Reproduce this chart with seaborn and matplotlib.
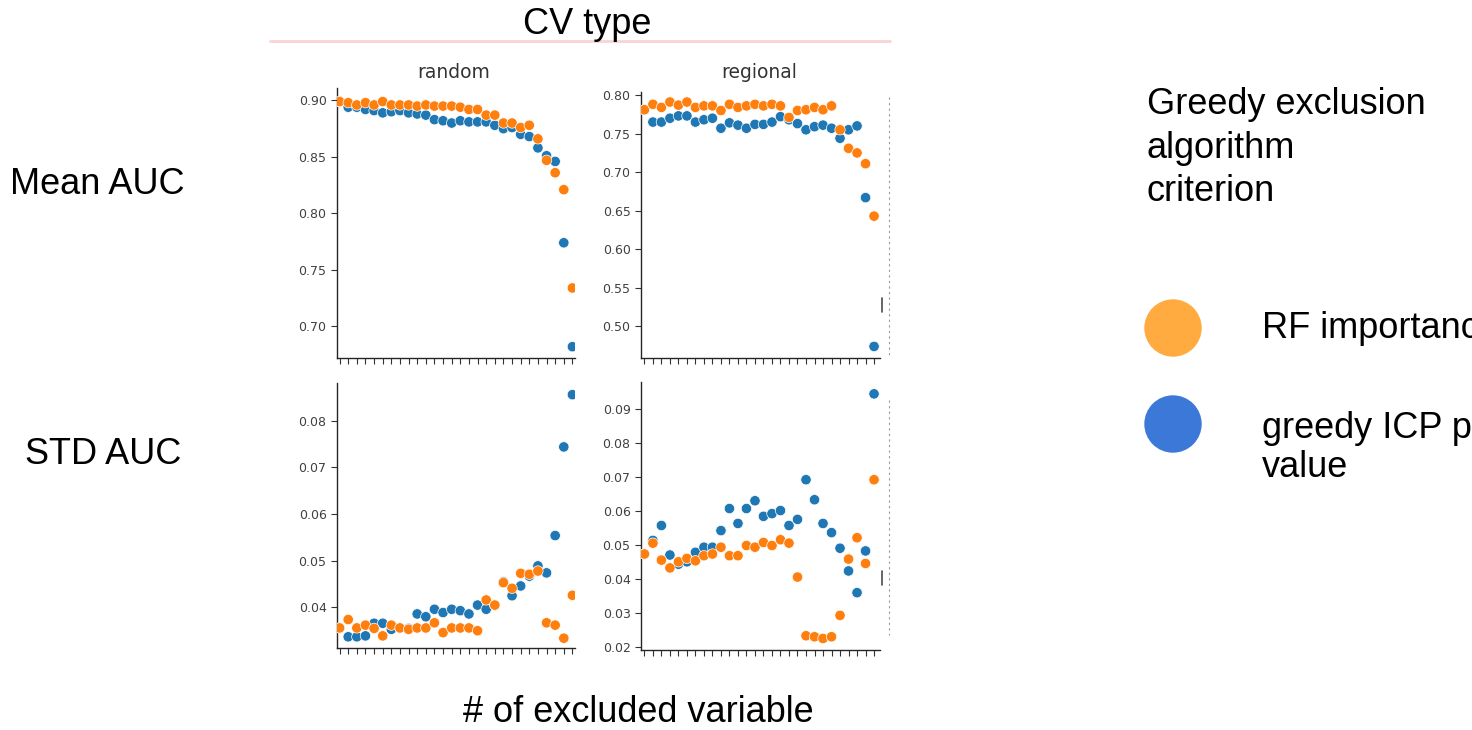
import numpy as np
import pandas as pd
import matplotlib
matplotlib.use("Agg")
import matplotlib.pyplot as plt
from matplotlib.patches import Ellipse
from matplotlib.lines import Line2D
import seaborn as sns

# ---------------- data ----------------
n_excluded = list(range(28))
criteria = ["greedy ICP p-value", "RF importance"]
cv_types = ["random", "regional"]
metrics = ["Mean AUC", "STD AUC"]

mean_random_icp = [0.899, 0.894, 0.894, 0.892, 0.891, 0.889, 0.890, 0.891, 0.889, 0.888,
                   0.887, 0.883, 0.882, 0.880, 0.882, 0.881, 0.881, 0.881, 0.878, 0.875,
                   0.876, 0.870, 0.868, 0.858, 0.851, 0.846, 0.774, 0.682]
mean_random_rf = [0.899, 0.898, 0.896, 0.898, 0.896, 0.899, 0.896, 0.896, 0.896, 0.895,
                  0.896, 0.895, 0.895, 0.895, 0.894, 0.892, 0.892, 0.887, 0.887, 0.880,
                  0.880, 0.876, 0.878, 0.866, 0.847, 0.836, 0.821, 0.734]
mean_regional_icp = [0.781, 0.765, 0.765, 0.770, 0.773, 0.773, 0.765, 0.768, 0.770, 0.757,
                     0.764, 0.761, 0.757, 0.762, 0.762, 0.765, 0.772, 0.768, 0.763, 0.755,
                     0.759, 0.761, 0.757, 0.744, 0.755, 0.760, 0.667, 0.474]
mean_regional_rf = [0.781, 0.788, 0.784, 0.791, 0.787, 0.791, 0.784, 0.786, 0.786, 0.780,
                    0.788, 0.784, 0.786, 0.788, 0.786, 0.788, 0.786, 0.771, 0.780, 0.781,
                    0.784, 0.781, 0.786, 0.755, 0.731, 0.725, 0.711, 0.643]
std_random_icp = [0.0356, 0.0337, 0.0337, 0.0339, 0.0366, 0.0366, 0.0353, 0.0356, 0.0355, 0.0386,
                  0.0380, 0.0396, 0.0389, 0.0396, 0.0393, 0.0386, 0.0405, 0.0396, 0.0405, 0.0455,
                  0.0425, 0.0446, 0.0467, 0.0489, 0.0474, 0.0554, 0.0744, 0.0856]
std_random_rf = [0.0356, 0.0374, 0.0356, 0.0362, 0.0355, 0.0339, 0.0362, 0.0356, 0.0353, 0.0356,
                 0.0356, 0.0367, 0.0346, 0.0356, 0.0356, 0.0356, 0.0350, 0.0416, 0.0405, 0.0453,
                 0.0441, 0.0473, 0.0471, 0.0478, 0.0367, 0.0362, 0.0334, 0.0426]
std_regional_icp = [0.0473, 0.0513, 0.0557, 0.0470, 0.0443, 0.0450, 0.0478, 0.0493, 0.0493, 0.0542,
                    0.0607, 0.0563, 0.0607, 0.0630, 0.0584, 0.0592, 0.0601, 0.0557, 0.0575, 0.0692,
                    0.0633, 0.0563, 0.0536, 0.0490, 0.0423, 0.0359, 0.0482, 0.0945]
std_regional_rf = [0.0473, 0.0505, 0.0455, 0.0432, 0.0450, 0.0460, 0.0453, 0.0468, 0.0473, 0.0493,
                   0.0468, 0.0468, 0.0498, 0.0493, 0.0507, 0.0498, 0.0515, 0.0505, 0.0405, 0.0232,
                   0.0229, 0.0224, 0.0229, 0.0292, 0.0458, 0.0521, 0.0445, 0.0692]

yticks_mean_random = [0.70, 0.75, 0.80, 0.85, 0.90]
yticks_mean_regional = [0.50, 0.55, 0.60, 0.65, 0.70, 0.75, 0.80]
yticks_std_random = [0.04, 0.05, 0.06, 0.07, 0.08]
yticks_std_regional = [0.02, 0.03, 0.04, 0.05, 0.06, 0.07, 0.08, 0.09]

series = {
    ("Mean AUC", "random"): (mean_random_icp, mean_random_rf),
    ("Mean AUC", "regional"): (mean_regional_icp, mean_regional_rf),
    ("STD AUC", "random"): (std_random_icp, std_random_rf),
    ("STD AUC", "regional"): (std_regional_icp, std_regional_rf),
}
rows = []
for (metric, cv), (icp, rf) in series.items():
    for crit, vals in zip(criteria, (icp, rf)):
        for x, v in zip(n_excluded, vals):
            rows.append({"metric": metric, "cv": cv, "criterion": crit, "x": x, "value": v})
df = pd.DataFrame(rows)

# ---------------- figure ----------------
sns.set_theme(style="ticks")
W, H = 1472, 730
fig = plt.figure(figsize=(W / 100, H / 100), dpi=100)


def px_axes(left, top, right, bottom):
    return fig.add_axes([left / W, (H - bottom) / H, (right - left) / W, (bottom - top) / H])


layout = {
    ("Mean AUC", "random"): ((337, 88, 575, 358), (0.672, 0.911), yticks_mean_random, (-0.3, 27.3)),
    ("Mean AUC", "regional"): ((641, 92, 880, 358), (0.459, 0.804), yticks_mean_regional, (-0.4, 27.7)),
    ("STD AUC", "random"): ((337, 383, 575, 648), (0.0313, 0.0881), yticks_std_random, (-0.3, 27.3)),
    ("STD AUC", "regional"): ((641, 382, 880, 650), (0.019, 0.098), yticks_std_regional, (-0.4, 27.7)),
}
palette = {"greedy ICP p-value": "#1f77b4", "RF importance": "#ff7f0e"}

for (metric, cv), (box, ylim, yt, xlim) in layout.items():
    ax = px_axes(*box)
    sub = df[(df.metric == metric) & (df.cv == cv)]
    sns.scatterplot(data=sub, x="x", y="value", hue="criterion", hue_order=criteria,
                    palette=palette, s=56, linewidth=0.5, edgecolor="white",
                    legend=False, ax=ax, zorder=3)
    ax.set_xlim(*xlim)
    ax.set_ylim(*ylim)
    ax.set_xticks(n_excluded)
    ax.set_xticklabels([])
    ax.set_yticks(yt)
    ax.set_yticklabels(["{:.2f}".format(t) for t in yt])
    ax.tick_params(axis="both", length=4, width=0.8, colors=".2", labelsize=9, labelcolor=".25")
    ax.set_xlabel("")
    ax.set_ylabel("")
    for s in ("top", "right"):
        ax.spines[s].set_visible(False)
    for s in ("left", "bottom"):
        ax.spines[s].set_color(".15")
        ax.spines[s].set_linewidth(1.0)

# facet column titles
for cv, xc in zip(cv_types, (454, 759)):
    fig.text(xc / W, (H - 73) / H, cv, ha="center", va="center", fontsize=13.5, color=".2")

# faint clipped-legend remnants at the right edge of the regional column
for y0, y1 in ((97, 358), (400, 635)):
    fig.add_artist(Line2D([889 / W, 889 / W], [(H - y0) / H, (H - y1) / H],
                          transform=fig.transFigure, color=".6", lw=0.8, ls=(0, (2, 3))))
for yc in (305, 578):
    fig.add_artist(Line2D([882 / W, 882 / W], [(H - yc + 7) / H, (H - yc - 7) / H],
                          transform=fig.transFigure, color=".3", lw=1.2))

# ---------------- annotation text ----------------
font = "Liberation Sans"
fs = 26
tc = "black"
fig.text(587 / W, (H - 24) / H, "CV type", ha="center", va="center", fontsize=fs, family=font, color=tc)
fig.add_artist(Line2D([270 / W, 890 / W], [(H - 41) / H, (H - 41) / H],
                      transform=fig.transFigure, color="#f8d4d4", lw=2))
fig.text(10 / W, (H - 185) / H, "Mean AUC", ha="left", va="center", fontsize=fs, family=font, color=tc)
fig.text(25 / W, (H - 455) / H, "STD AUC", ha="left", va="center", fontsize=fs, family=font, color=tc)
fig.text(638 / W, (H - 712) / H, "# of excluded variable", ha="center", va="center",
         fontsize=fs, family=font, color=tc)
fig.text(1147 / W, (H - 148) / H, "Greedy exclusion\nalgorithm\ncriterion", ha="left", va="center",
         fontsize=fs, family=font, linespacing=1.3, color=tc)

legend_colors = ["#ffab40", "#3c78d8"]
legend_labels = ["RF importance", "greedy ICP p-\nvalue"]
legend_y = [328, 424]
text_y = [328, 448]
for c, lab, yc, ty in zip(legend_colors, legend_labels, legend_y, text_y):
    fig.add_artist(Ellipse((1173 / W, (H - yc) / H), 56 / W, 56 / H,
                           transform=fig.transFigure, color=c))
    fig.text(1262 / W, (H - ty) / H, lab, ha="left", va="center", fontsize=fs,
             family=font, linespacing=1.18, color=tc)

fig.savefig("out.png", dpi=100)
